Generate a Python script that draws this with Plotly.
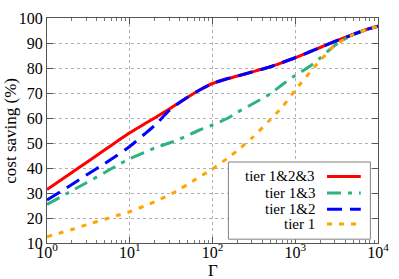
import plotly.graph_objects as go

gamma = [1, 2, 3, 5, 7, 10, 15, 20, 30, 40, 50, 70, 100, 150, 200, 300, 500, 700,
         1000, 1500, 2000, 3000, 5000, 7000, 10000]
tier123 = [31.4, 38.2, 42.2, 47.3, 50.6, 54.1, 57.6, 60.0, 63.6, 66.2, 68.3, 71.2, 73.8, 75.7,
           76.8, 78.4, 80.5, 82.2, 84.1, 86.5, 88.2, 90.6, 93.4, 95.2, 96.7]
tier13 = [25.4, 30.9, 34.1, 38.2, 41.0, 43.7, 46.2, 48.0, 50.0, 51.5, 53.0, 55.2, 57.2, 59.8,
          62.3, 65.5, 69.7, 73.4, 77.0, 80.7, 84.0, 89.0, 93.4, 95.2, 96.7]
tier12 = [27.2, 33.4, 37.2, 41.8, 45.0, 48.6, 53.5, 57.0, 63.0, 66.2, 68.3, 71.2, 73.8, 75.7,
          76.8, 78.4, 80.5, 82.2, 84.1, 86.5, 88.2, 90.6, 93.4, 95.2, 96.7]
tier1 = [12.5, 15.4, 17.3, 19.5, 21.0, 22.5, 24.8, 26.5, 29.2, 31.5, 33.4, 36.5, 39.6, 43.8,
         47.0, 52.0, 59.4, 64.5, 71.2, 78.2, 83.0, 89.0, 93.4, 95.2, 96.7]

names = ["tier 1&2&3", "tier 1&3", "tier 1&2", "tier 1"]
colors = ["#ff0000", "#2db37f", "#0000ff", "#ffa500"]
dashes = ["solid", "14px,7px,4px,7px", "15px,8px", "5px,7px"]
series = [tier123, tier13, tier12, tier1]

xtickvals = [1, 10, 100, 1000, 10000]
xticktext = ["10<sup>0</sup>", "10<sup>1</sup>", "10<sup>2</sup>", "10<sup>3</sup>", "10<sup>4</sup>"]
yticks = list(range(10, 101, 10))

fig = go.Figure()
for name, col, d, ys in zip(names, colors, dashes, series):
    fig.add_trace(go.Scatter(x=gamma, y=ys, mode="lines", name=name,
                             line=dict(color=col, width=3, dash=d, shape="spline", smoothing=0.6),
                             showlegend=False))

serif = "Liberation Serif, Times New Roman, serif"
tickfont = dict(family=serif, size=16, color="black")
titlefont = dict(family=serif, size=17, color="black")
legfont = dict(family=serif, size=15, color="black")
fig.update_layout(
    width=399, height=279,
    margin=dict(l=47, r=20, t=10, b=36),
    paper_bgcolor="white", plot_bgcolor="white",
    font=tickfont,
)
fig.update_xaxes(type="log", range=[0, 4], tickvals=xtickvals, ticktext=xticktext,
                 tickfont=tickfont,
                 showline=True, linecolor="#555555", linewidth=1, mirror="allticks",
                 ticks="inside", ticklen=6, tickcolor="#555555", ticklabelstandoff=-5,
                 showgrid=True, gridcolor="#b0b0b0", griddash="dot", gridwidth=1,
                 minor=dict(ticks="inside", ticklen=3, tickcolor="#777777", showgrid=False,
                            dtick="D1"),
                 zeroline=False)
fig.update_yaxes(range=[10, 100], tickvals=yticks, tickfont=tickfont,
                 showline=True, linecolor="#555555", linewidth=1, mirror="allticks",
                 ticks="inside", ticklen=6, tickcolor="#555555",
                 showgrid=True, gridcolor="#b0b0b0", griddash="dot", gridwidth=1,
                 zeroline=False)

# axis titles
fig.add_annotation(xref="paper", yref="paper", x=-0.111, y=0.5, text="cost saving (%)",
                   textangle=-90, showarrow=False, xanchor="center", yanchor="middle",
                   font=titlefont)
fig.add_annotation(xref="paper", yref="paper", x=0.5, y=-0.124, text="Γ",
                   showarrow=False, xanchor="center", yanchor="middle", font=titlefont)

# legend box (inside plot, text right-aligned, sample to the right)
fig.add_shape(type="rect", xref="paper", yref="paper", x0=0.548, x1=0.977, y0=0.017, y1=0.36,
              line=dict(color="#808080", width=1), fillcolor="white", layer="above")
ly = [0.296, 0.222, 0.15, 0.085]
for name, col, d, yy in zip(names, colors, dashes, ly):
    fig.add_annotation(xref="paper", yref="paper", x=0.815, y=yy, text=name, showarrow=False,
                       xanchor="right", yanchor="middle", font=legfont)
    fig.add_shape(type="line", xref="paper", yref="paper", x0=0.846, x1=0.948, y0=yy, y1=yy,
                  line=dict(color=col, width=3, dash=d), layer="above")

fig.write_html("out.html", config={"displayModeBar": False},
               post_script="document.body.style.margin='0px';")
